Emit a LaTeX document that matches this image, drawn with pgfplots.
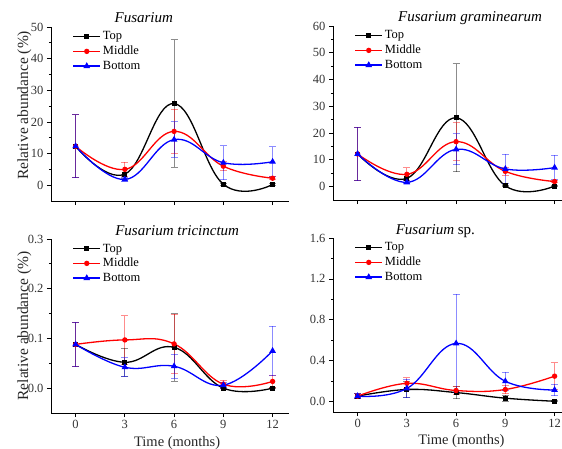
\documentclass[border=0pt]{standalone}
\usepackage{fontspec}
\setmainfont{Liberation Serif}
\usepackage{pgfplots}
\pgfplotsset{compat=1.18}

\pgfplotsset{
  panel/.style={
    scale only axis, width=238pt, height=174pt, anchor=south west,
    axis lines*=left,
    axis line style={line width=1pt},
    xmin=-1.5, xmax=13, xtick={0,3,6,9,12},
    tick align=outside, major tick length=4pt, minor tick length=2.2pt,
    tick style={black, line width=0.8pt},
    minor y tick num=1,
    /pgf/number format/assume math mode=true,
    ticklabel style={font=\fontsize{12.5}{14}\selectfont, text=black!80},
    label style={text=black!85},
    title style={inner sep=0pt, anchor=base, font=\fontsize{15}{17}\selectfont\itshape},
    legend cell align=left,
    legend style={draw=none, fill=none, font=\fontsize{12.5}{13}\selectfont,
      row sep=0.8pt, inner sep=0pt, at={(axis description cs:0.09,0.985)}, anchor=north west},
    legend image code/.code={\draw[mark repeat=2, mark phase=2, #1, line width=1.3pt]
      plot coordinates {(0pt,0pt) (13.5pt,0pt) (27pt,0pt)};},
    error bars/y dir=both, error bars/y explicit,
    error bars/error bar style={line width=1pt, opacity=0.45},
    error bars/error mark options={rotate=90, mark size=3.5pt, line width=1pt, opacity=0.45},
  },
  topS/.style={black, line width=1.3pt, smooth, tension=0.7, mark=square*, mark size=1.8pt, mark options={solid}},
  midS/.style={red, line width=1.3pt, smooth, tension=0.7, mark=*, mark size=2pt, mark options={solid}},
  botS/.style={blue, line width=1.3pt, smooth, tension=0.7, mark=triangle*, mark size=2.6pt, mark options={solid}},
}

\begin{document}
\begin{tikzpicture}

% Fusarium
\begin{axis}[panel, at={(51pt,247pt)},
  ymin=-5, ymax=50, ytick={0,10,...,50}, xticklabels={},
  title={Fusarium}, title style={at={(axis description cs:0.39,1)}, yshift=-1.5pt},
  ylabel={Relative abundance (\%)},
  ylabel style={at={(axis description cs:-0.112,0.55)}, anchor=center, font=\fontsize{15.5}{18}\selectfont}]
\addplot+[topS] coordinates {(0,12.3) +- (0,10) (3,3.5) +- (0,1.5) (6,25.8) +- (0,20.2) (9,0.3) +- (0,0.3) (12,0.2) +- (0,0.2)};
\addlegendentry{Top}
\addplot+[midS] coordinates {(0,12.3) +- (0,10) (3,5.0) +- (0,2.3) (6,17.0) +- (0,7.0) (9,6.0) +- (0,1.5) (12,2.2) +- (0,0.5)};
\addlegendentry{Middle}
\addplot+[botS] coordinates {(0,12.3) +- (0,10) (3,1.8) +- (0,0.5) (6,14.4) +- (0,5.6) (9,7.1) +- (0,5.4) (12,7.4) +- (0,4.8)};
\addlegendentry{Bottom}
\end{axis}

% Fusarium graminearum
\begin{axis}[panel, at={(333pt,248pt)},
  ymin=-5, ymax=60, ytick={0,10,...,60}, xticklabels={},
  title={Fusarium graminearum}, title style={at={(axis description cs:0.576,1)}, yshift=-1.5pt}]
\addplot+[topS] coordinates {(0,12.2) +- (0,10) (3,3.1) +- (0,1.5) (6,25.7) +- (0,20.2) (9,0.3) +- (0,0.3) (12,0.2) +- (0,0.2)};
\addlegendentry{Top}
\addplot+[midS] coordinates {(0,12.2) +- (0,10) (3,4.6) +- (0,2.5) (6,16.8) +- (0,7.0) (9,5.7) +- (0,1.4) (12,1.9) +- (0,0.5)};
\addlegendentry{Middle}
\addplot+[botS] coordinates {(0,12.2) +- (0,10) (3,1.6) +- (0,0.5) (6,13.9) +- (0,5.8) (9,6.6) +- (0,5.4) (12,7.1) +- (0,4.6)};
\addlegendentry{Bottom}
\end{axis}

% Fusarium tricinctum
\begin{axis}[panel, at={(51pt,35pt)},
  ymin=-0.05, ymax=0.3, ytick={0,0.1,0.2,0.3},
  yticklabel style={/pgf/number format/.cd, fixed, fixed zerofill, precision=1},
  title={Fusarium tricinctum}, title style={at={(axis description cs:0.53,1)}, yshift=-2pt},
  ylabel={Relative abundance (\%)},
  ylabel style={at={(axis description cs:-0.112,0.5)}, anchor=center, font=\fontsize{15.5}{18}\selectfont},
  xlabel={Time (months)},
  xlabel style={at={(axis description cs:0.53,0)}, anchor=base, yshift=-33pt, font=\fontsize{14.5}{17}\selectfont}]
\addplot+[topS] coordinates {(0,0.088) +- (0,0.045) (3,0.052) +- (0,0.028) (6,0.082) +- (0,0.068) (9,0.0) +- (0,0.001) (12,0.0) +- (0,0.001)};
\addlegendentry{Top}
\addplot+[midS] coordinates {(0,0.088) +- (0,0.045) (3,0.097) +- (0,0.049) (6,0.089) +- (0,0.06) (9,0.008) +- (0,0.008) (12,0.0135) +- (0,0.0125)};
\addlegendentry{Middle}
\addplot+[botS] coordinates {(0,0.088) +- (0,0.045) (3,0.042) +- (0,0.019) (6,0.044) +- (0,0.024) (9,0.006) +- (0,0.006) (12,0.075) +- (0,0.05)};
\addlegendentry{Bottom}
\end{axis}

% Fusarium sp.
\begin{axis}[panel, at={(333pt,36pt)},
  ymin=-0.1, ymax=1.6, ytick={0,0.4,0.8,1.2,1.6},
  yticklabel style={/pgf/number format/.cd, fixed, fixed zerofill, precision=1},
  title={\textit{Fusarium} \upshape sp.}, title style={at={(axis description cs:0.43,1)}, yshift=-2pt},
  xlabel={Time (months)},
  xlabel style={at={(axis description cs:0.54,0)}, anchor=base, yshift=-32pt, font=\fontsize{14.5}{17}\selectfont}]
\addplot+[topS] coordinates {(0,0.055) +- (0,0.025) (3,0.12) +- (0,0.08) (6,0.09) +- (0,0.06) (9,0.035) +- (0,0.03) (12,0.005) +- (0,0.005)};
\addlegendentry{Top}
\addplot+[midS] coordinates {(0,0.055) +- (0,0.025) (3,0.18) +- (0,0.055) (6,0.11) +- (0,0.04) (9,0.12) +- (0,0.04) (12,0.25) +- (0,0.13)};
\addlegendentry{Middle}
\addplot+[botS] coordinates {(0,0.055) +- (0,0.025) (3,0.13) +- (0,0.09) (6,0.57) +- (0,0.48) (9,0.2) +- (0,0.09) (12,0.115) +- (0,0.055)};
\addlegendentry{Bottom}
\end{axis}

\pgfresetboundingbox
\path[use as bounding box] (0pt,0pt) rectangle (562pt,448pt);
\end{tikzpicture}
\end{document}
